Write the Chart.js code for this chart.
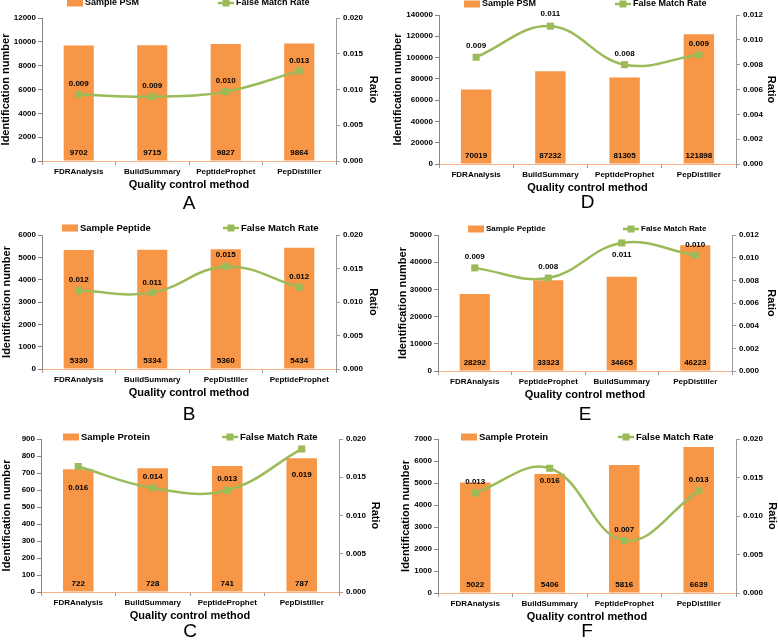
<!DOCTYPE html>
<html>
<head>
<meta charset="utf-8">
<script src="https://cdn.jsdelivr.net/npm/chart.js@4.4.1/dist/chart.umd.min.js"></script>
<style>
    body { margin: 0; background: #fff; }
    #wrap { position: relative; width: 778px; height: 640px; overflow: hidden; }
    #wrap canvas { position: absolute; }
</style>
</head>
<body>
<div id="wrap"></div>
<script>
// ---- data ----
const methodsA = ['FDRAnalysis', 'BuildSummary', 'PeptideProphet', 'PepDistiller'];
const countsA = [9702, 9715, 9827, 9864];
const ratesA = [0.0093, 0.0090, 0.0097, 0.0126];
const seriesA = ['Sample PSM', 'False Match Rate'];
const countAxisA = [12000, 2000];
const rateAxisA = [0.020, 0.005];

const methodsD = ['FDRAnalysis', 'BuildSummary', 'PeptideProphet', 'PepDistiller'];
const countsD = [70019, 87232, 81305, 121898];
const ratesD = [0.0086, 0.0111, 0.0080, 0.0088];
const seriesD = ['Sample PSM', 'False Match Rate'];
const countAxisD = [140000, 20000];
const rateAxisD = [0.012, 0.002];

const methodsB = ['FDRAnalysis', 'BuildSummary', 'PepDistiller', 'PeptideProphet'];
const countsB = [5330, 5334, 5360, 5434];
const ratesB = [0.0117, 0.0114, 0.0153, 0.0122];
const seriesB = ['Sample Peptide', 'False Match Rate'];
const countAxisB = [6000, 1000];
const rateAxisB = [0.020, 0.005];

const methodsE = ['FDRAnalysis', 'PeptideProphet', 'BuildSummary', 'PepDistiller'];
const countsE = [28292, 33323, 34665, 46223];
const ratesE = [0.0091, 0.0082, 0.0113, 0.0102];
const seriesE = ['Sample Peptide', 'False Match Rate'];
const countAxisE = [50000, 10000];
const rateAxisE = [0.012, 0.002];

const methodsC = ['FDRAnalysis', 'BuildSummary', 'PeptideProphet', 'PepDistiller'];
const countsC = [722, 728, 741, 787];
const ratesC = [0.0164, 0.0136, 0.0133, 0.0187];
const seriesC = ['Sample Protein', 'False Match Rate'];
const countAxisC = [900, 100];
const rateAxisC = [0.020, 0.005];

const methodsF = ['FDRAnalysis', 'BuildSummary', 'PeptideProphet', 'PepDistiller'];
const countsF = [5022, 5406, 5816, 6639];
const ratesF = [0.0130, 0.0162, 0.0068, 0.0133];
const seriesF = ['Sample Protein', 'False Match Rate'];
const countAxisF = [7000, 1000];
const rateAxisF = [0.020, 0.005];

// ---- layout / style per panel ----
const CW = 389, CH = 225;
const FONT = '"Liberation Sans", Arial, sans-serif';
const ORANGE = '#F79646';
const GREEN = '#9BBB59';

const panels = [
    {letter: 'A', left: 0, top: 0, area: [42, 18, 336, 161], letterY: 204, yTitleX: 6, rTitleX: 373,
        legendY: 3, legendDx: [25, 176], legendSize: 9, labelDy: [11, 11, 11, 10],
        methods: methodsA, counts: countsA, rates: ratesA, series: seriesA, countAxis: countAxisA, rateAxis: rateAxisA},
    {letter: 'D', left: 389, top: 0, area: [439, 15, 736, 164], letterY: 203, yTitleX: 398, rTitleX: 771,
        legendY: 4, legendDx: [25, 176], legendSize: 9, labelDy: [11, 12, 11, 11],
        methods: methodsD, counts: countsD, rates: ratesD, series: seriesD, countAxis: countAxisD, rateAxis: rateAxisD},
    {letter: 'B', left: 0, top: 212, area: [42, 235, 336, 369], letterY: 415, yTitleX: 7, rTitleX: 373,
        legendY: 228, legendDx: [20, 181], legendSize: 9.5, labelDy: [11, 10, 12, 10],
        methods: methodsB, counts: countsB, rates: ratesB, series: seriesB, countAxis: countAxisB, rateAxis: rateAxisB},
    {letter: 'E', left: 389, top: 212, area: [438, 235, 732, 371], letterY: 415, yTitleX: 403, rTitleX: 771,
        legendY: 229, legendDx: [30, 185], legendSize: 8, labelDy: [11, 11, -12, 11],
        methods: methodsE, counts: countsE, rates: ratesE, series: seriesE, countAxis: countAxisE, rateAxis: rateAxisE},
    {letter: 'C', left: 0, top: 415, area: [41, 439, 339, 592], letterY: 632, yTitleX: 7, rTitleX: 375,
        legendY: 437, legendDx: [22, 181], legendSize: 9.5, labelDy: [-21, 11, 11, -26],
        methods: methodsC, counts: countsC, rates: ratesC, series: seriesC, countAxis: countAxisC, rateAxis: rateAxisC},
    {letter: 'F', left: 389, top: 415, area: [438, 439, 736, 593], letterY: 632, yTitleX: 406, rTitleX: 773,
        legendY: 437, legendDx: [23, 180], legendSize: 9.5, labelDy: [11, -13, 11, 11],
        methods: methodsF, counts: countsF, rates: ratesF, series: seriesF, countAxis: countAxisF, rateAxis: rateAxisF}
];

// legend drawn above the plot: bar swatch + line with square marker
const topLegend = {
    id: 'topLegend',
    afterDraw(chart, args, opts) {
        const {ctx, chartArea} = chart;
        const barSet = chart.data.datasets[0];
        const lineSet = chart.data.datasets[1];
        const y = opts.y;
        ctx.save();
        ctx.font = 'bold ' + opts.size + 'px ' + FONT;
        ctx.textBaseline = 'middle';
        ctx.textAlign = 'left';

        let x = chartArea.left + opts.dx[0];
        ctx.fillStyle = barSet.backgroundColor;
        ctx.fillRect(x, y - 3.5, 16, 7);
        ctx.fillStyle = '#000';
        ctx.fillText(barSet.label, x + 18, y);

        x = chartArea.left + opts.dx[1];
        ctx.strokeStyle = lineSet.borderColor;
        ctx.lineWidth = 2.5;
        ctx.beginPath();
        ctx.moveTo(x, y);
        ctx.lineTo(x + 16, y);
        ctx.stroke();
        ctx.fillStyle = lineSet.pointBackgroundColor;
        ctx.fillRect(x + 4.5, y - 3.5, 7, 7);
        ctx.fillStyle = '#000';
        ctx.fillText(lineSet.label, x + 18, y);
        ctx.restore();
    }
};

// numbers on bars and above/below the points
const valueLabels = {
    id: 'valueLabels',
    afterDatasetsDraw(chart, args, opts) {
        const {ctx, chartArea} = chart;
        ctx.save();
        ctx.font = 'bold 8px ' + FONT;
        ctx.fillStyle = '#000';
        ctx.textAlign = 'center';
        ctx.textBaseline = 'middle';
        const bars = chart.data.datasets[0].data;
        chart.getDatasetMeta(0).data.forEach((bar, i) => {
            ctx.fillText(String(bars[i]), bar.x, chartArea.bottom - 8);
        });
        const rates = chart.data.datasets[1].data;
        chart.getDatasetMeta(1).data.forEach((pt, i) => {
            ctx.fillText(rates[i].toFixed(3), pt.x, pt.y - opts.dy[i]);
        });
        ctx.restore();
    }
};

Chart.defaults.font.family = FONT;
Chart.defaults.color = '#000';

const wrap = document.getElementById('wrap');
const X_H = 29, LETTER_H = 16;

panels.forEach(p => {
    const canvas = document.createElement('canvas');
    canvas.width = CW;
    canvas.height = CH;
    canvas.style.left = p.left + 'px';
    canvas.style.top = p.top + 'px';
    wrap.appendChild(canvas);

    const leftW = p.area[0] - p.left;
    const rightW = p.left + CW - p.area[2];
    const padTop = p.area[1] - p.top;
    const letterPad = p.letterY - p.area[3] - X_H - LETTER_H / 2;
    const padBottom = Math.max(0, p.top + CH - p.area[3] - X_H - letterPad - LETTER_H);

    new Chart(canvas, {
        data: {
            labels: p.methods,
            datasets: [
                {
                    type: 'bar',
                    label: p.series[0],
                    data: p.counts,
                    backgroundColor: ORANGE,
                    barPercentage: 0.41,
                    categoryPercentage: 1,
                    yAxisID: 'y',
                    order: 2
                },
                {
                    type: 'line',
                    label: p.series[1],
                    data: p.rates,
                    borderColor: GREEN,
                    borderWidth: 2.5,
                    tension: 0.4,
                    pointStyle: 'rect',
                    pointRadius: 5,
                    pointBackgroundColor: GREEN,
                    pointBorderColor: GREEN,
                    pointBorderWidth: 0,
                    yAxisID: 'y2',
                    order: 1
                }
            ]
        },
        options: {
            responsive: false,
            animation: false,
            devicePixelRatio: 1,
            layout: {padding: {top: padTop, left: 0, right: 0, bottom: padBottom}},
            plugins: {
                legend: {display: false},
                tooltip: {enabled: false},
                title: {
                    display: true,
                    text: p.letter,
                    position: 'bottom',
                    fullSize: false,
                    color: '#000',
                    font: {size: 19, weight: 'normal', lineHeight: LETTER_H / 19},
                    padding: {top: letterPad, bottom: 0}
                },
                topLegend: {y: p.legendY - p.top, dx: p.legendDx, size: p.legendSize},
                valueLabels: {dy: p.labelDy}
            },
            scales: {
                x: {
                    afterFit: s => { s.height = X_H; },
                    border: {display: true, color: '#F4B183', width: 1},
                    grid: {display: true, drawOnChartArea: false, drawTicks: true, tickLength: 4, color: '#999'},
                    ticks: {font: {size: 8, weight: 'bold'}, padding: 2, maxRotation: 0, autoSkip: false},
                    title: {display: true, text: 'Quality control method', font: {size: 11, weight: 'bold', lineHeight: 1}, padding: 0}
                },
                y: {
                    position: 'left',
                    min: 0,
                    max: p.countAxis[0],
                    afterFit: s => { s.width = leftW; },
                    border: {display: true, color: '#868686', width: 1},
                    grid: {display: true, drawOnChartArea: false, drawTicks: true, tickLength: 4, color: '#868686'},
                    ticks: {stepSize: p.countAxis[1], font: {size: 8, weight: 'bold'}, padding: 2, callback: v => String(v)},
                    title: {display: true, text: 'Identification number', font: {size: 11, weight: 'bold', lineHeight: 1},
                        padding: {top: Math.max(0, p.yTitleX - p.left - 5.5), bottom: 0}}
                },
                y2: {
                    position: 'right',
                    min: 0,
                    max: p.rateAxis[0],
                    afterFit: s => { s.width = rightW; },
                    border: {display: true, color: '#9A9A9A', width: 1},
                    grid: {display: true, drawOnChartArea: false, drawTicks: true, tickLength: 4, color: '#9A9A9A'},
                    ticks: {stepSize: p.rateAxis[1], font: {size: 8, weight: 'bold'}, padding: 3, callback: v => v.toFixed(3)},
                    title: {display: true, text: 'Ratio', font: {size: 11, weight: 'bold', lineHeight: 1},
                        padding: {top: Math.max(0, p.left + CW - p.rTitleX - 5.5), bottom: 0}}
                }
            }
        },
        plugins: [topLegend, valueLabels]
    });
});
</script>
</body>
</html>
